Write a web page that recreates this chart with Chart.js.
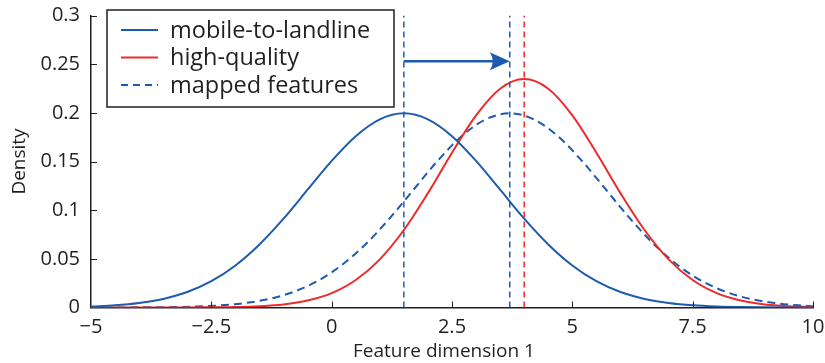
<!DOCTYPE html>
<html>
<head>
<meta charset="utf-8">
<script src="https://cdn.jsdelivr.net/npm/chart.js@4/dist/chart.umd.min.js"></script>
<style>
  html, body { margin: 0; padding: 0; background: #ffffff; }
  canvas { display: block; }
</style>
</head>
<body>
<canvas id="chart" width="825" height="363"></canvas>
<script>
// Sample positions shared by the two solid densities
const gridX = [-5, -4.5, -4, -3.5, -3, -2.5, -2, -1.5, -1, -0.5, 0, 0.5, 1, 1.5, 2, 2.5,
               3, 3.5, 4, 4.5, 5, 5.5, 6, 6.5, 7, 7.5, 8, 8.5, 9, 9.5, 10];

// mobile-to-landline feature density
const mobileDensity = [0.0010, 0.0022, 0.0046, 0.0088, 0.0159, 0.0270, 0.0432, 0.0648, 0.0913, 0.1210,
                       0.1506, 0.1760, 0.1933, 0.1995, 0.1933, 0.1760, 0.1506, 0.1210, 0.0913, 0.0648,
                       0.0432, 0.0270, 0.0159, 0.0088, 0.0046, 0.0022, 0.0010, 0.0004, 0.0002, 0.0001, 0.0000];

// high-quality feature density
const highQualityDensity = [0.0000, 0.0000, 0.0000, 0.0000, 0.0000, 0.0002, 0.0005, 0.0013, 0.0031, 0.0071,
                            0.0147, 0.0282, 0.0495, 0.0796, 0.1175, 0.1590, 0.1974, 0.2248, 0.2347, 0.2248,
                            0.1974, 0.1590, 0.1175, 0.0796, 0.0495, 0.0282, 0.0147, 0.0071, 0.0031, 0.0013, 0.0005];

// mapped features density (own sample positions, centred on its mean)
const mappedX = [-5, -4.8, -4.3, -3.8, -3.3, -2.8, -2.3, -1.8, -1.3, -0.8, -0.3, 0.2, 0.7, 1.2, 1.7, 2.2,
                 2.7, 3.2, 3.7, 4.2, 4.7, 5.2, 5.7, 6.2, 6.7, 7.2, 7.7, 8.2, 8.7, 9.2, 9.7, 10];
const mappedDensity = [0.0000, 0.0000, 0.0001, 0.0002, 0.0004, 0.0010, 0.0022, 0.0046, 0.0088, 0.0159,
                       0.0270, 0.0432, 0.0648, 0.0913, 0.1210, 0.1506, 0.1760, 0.1933, 0.1995, 0.1933,
                       0.1760, 0.1506, 0.1210, 0.0913, 0.0648, 0.0432, 0.0270, 0.0159, 0.0088, 0.0046,
                       0.0022, 0.0014];

// Means marked by the vertical dashed lines, and the height of the shift arrow
const mobileMean = 1.5;
const mappedMean = 3.7;
const highQualityMean = 4.0;
const arrowLevel = 0.253;
const densityTop = 0.3;

// Axis ticks
const xTicks = [-5, -2.5, 0, 2.5, 5, 7.5, 10];
const xTickLabels = ['\u22125', '\u22122.5', '0', '2.5', '5', '7.5', '10'];
const yTicks = [0, 0.05, 0.1, 0.15, 0.2, 0.25, 0.3];
const yTickLabels = ['0', '0.05', '0.1', '0.15', '0.2', '0.25', '0.3'];

// Legend entries
const legendLabels = ['mobile-to-landline', 'high-quality', 'mapped features'];

const BLUE = '#1d5bb0';
const RED = '#ee2a2a';
const INK = '#231f20';
const FONT = "'Open Sans', sans-serif";

const toPoints = (xs, ys) => xs.map((x, i) => ({ x: x, y: ys[i] }));
const vertical = (x) => [{ x: x, y: 0 }, { x: x, y: densityTop }];

const curveStyle = {
  pointRadius: 0,
  borderWidth: 2,
  cubicInterpolationMode: 'monotone',
  fill: false
};
const markerStyle = {
  pointRadius: 0,
  borderWidth: 1.5,
  borderDash: [6, 4],
  fill: false
};

const decorations = {
  id: 'decorations',
  afterDatasetsDraw(chart) {
    const { ctx, scales: { x, y } } = chart;
    ctx.save();

    // inward-pointing tick marks
    ctx.strokeStyle = INK;
    ctx.lineWidth = 1;
    const bottom = y.getPixelForValue(0);
    const left = x.getPixelForValue(-5);
    xTicks.forEach(v => {
      if (v === xTicks[0]) return;
      const px = Math.round(x.getPixelForValue(v)) + 0.5;
      ctx.beginPath();
      ctx.moveTo(px, bottom);
      ctx.lineTo(px, bottom - 6);
      ctx.stroke();
    });
    yTicks.forEach(v => {
      if (v === yTicks[0]) return;
      const py = Math.round(y.getPixelForValue(v)) + 0.5;
      ctx.beginPath();
      ctx.moveTo(left, py);
      ctx.lineTo(left + 6, py);
      ctx.stroke();
    });

    // arrowhead at the mapped mean
    const tipX = x.getPixelForValue(mappedMean);
    const ay = y.getPixelForValue(arrowLevel);
    ctx.fillStyle = BLUE;
    ctx.beginPath();
    ctx.moveTo(tipX, ay);
    ctx.lineTo(tipX - 20, ay - 9);
    ctx.quadraticCurveTo(tipX - 14, ay, tipX - 20, ay + 9);
    ctx.closePath();
    ctx.fill();

    // legend box
    const bx = 107, by = 10, bw = 287, bh = 97;
    ctx.fillStyle = '#ffffff';
    ctx.fillRect(bx, by, bw, bh);
    ctx.strokeStyle = INK;
    ctx.lineWidth = 1.5;
    ctx.strokeRect(bx, by, bw, bh);
    const rows = [30, 57.5, 85];
    const styles = [
      { color: BLUE, dash: [] },
      { color: RED, dash: [] },
      { color: BLUE, dash: [7, 5] }
    ];
    ctx.font = '23.5px ' + FONT;
    ctx.textBaseline = 'middle';
    ctx.textAlign = 'left';
    rows.forEach((ry, i) => {
      ctx.strokeStyle = styles[i].color;
      ctx.lineWidth = 2;
      ctx.setLineDash(styles[i].dash);
      ctx.beginPath();
      ctx.moveTo(121, ry);
      ctx.lineTo(158, ry);
      ctx.stroke();
      ctx.setLineDash([]);
      ctx.fillStyle = INK;
      ctx.fillText(legendLabels[i], 170, ry + 1);
    });

    // x-axis title
    ctx.font = '19px ' + FONT;
    ctx.textAlign = 'center';
    ctx.fillStyle = INK;
    ctx.fillText('Feature dimension 1', 444, 352);

    ctx.restore();
  }
};

new Chart(document.getElementById('chart'), {
  type: 'line',
  data: {
    datasets: [
      { ...markerStyle, data: vertical(mobileMean), borderColor: BLUE },
      { ...markerStyle, data: vertical(mappedMean), borderColor: BLUE },
      { ...markerStyle, data: vertical(highQualityMean), borderColor: RED },
      { pointRadius: 0, borderWidth: 2.5, borderColor: BLUE, fill: false,
        data: [{ x: mobileMean, y: arrowLevel }, { x: mappedMean - 0.3, y: arrowLevel }] },
      { ...curveStyle, label: legendLabels[0], data: toPoints(gridX, mobileDensity), borderColor: BLUE },
      { ...curveStyle, label: legendLabels[1], data: toPoints(gridX, highQualityDensity), borderColor: RED },
      { ...curveStyle, label: legendLabels[2], data: toPoints(mappedX, mappedDensity), borderColor: BLUE,
        borderDash: [8, 5] }
    ]
  },
  options: {
    responsive: false,
    animation: false,
    layout: { padding: { top: 15.5, right: 12, left: 0, bottom: 0 } },
    plugins: {
      legend: { display: false },
      tooltip: { enabled: false }
    },
    scales: {
      x: {
        type: 'linear',
        min: -5,
        max: 10,
        afterBuildTicks: (s) => { s.ticks = xTicks.map(v => ({ value: v })); },
        afterFit: (s) => { s.height = 55.5; s.paddingLeft = 0; s.paddingRight = 0; },
        grid: { display: false, drawTicks: false },
        border: { display: true, color: INK, width: 1.5 },
        ticks: {
          padding: 8,
          color: INK,
          font: { family: FONT, size: 20 },
          maxRotation: 0,
          autoSkip: false,
          callback: (v, i) => xTickLabels[i]
        }
      },
      y: {
        type: 'linear',
        min: 0,
        max: densityTop,
        afterBuildTicks: (s) => { s.ticks = yTicks.map(v => ({ value: v })); },
        afterFit: (s) => { s.width = 91; s.paddingTop = 0; s.paddingBottom = 0; },
        grid: { display: false, drawTicks: false },
        border: { display: true, color: INK, width: 1.5 },
        ticks: {
          padding: 11,
          color: INK,
          font: { family: FONT, size: 20 },
          autoSkip: false,
          callback: (v, i) => yTickLabels[i]
        },
        title: {
          display: true,
          text: 'Density',
          color: INK,
          font: { family: FONT, size: 19 },
          padding: { top: 8, bottom: 0 }
        }
      }
    }
  },
  plugins: [decorations]
});
</script>
</body>
</html>
